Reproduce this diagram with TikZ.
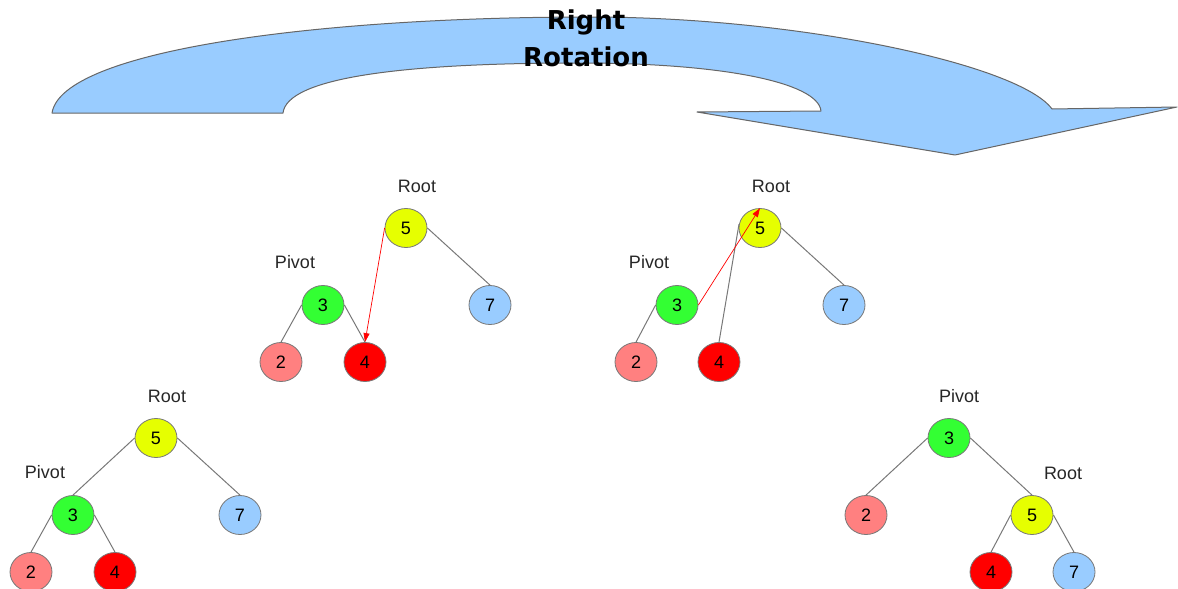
\documentclass[tikz,border=0pt]{standalone}
\usepackage{fontspec}
\setmainfont{Liberation Sans}
\newfontfamily\titlefont{DejaVu Sans}
\usetikzlibrary{shapes.geometric,arrows.meta}
\definecolor{arrowblue}{RGB}{153,204,255}
\definecolor{nyellow}{RGB}{230,255,0}
\definecolor{ngreen}{RGB}{51,255,51}
\definecolor{npink}{RGB}{255,128,128}
\definecolor{nred}{RGB}{255,0,0}
\definecolor{nblue}{RGB}{153,204,255}
\definecolor{edgegray}{RGB}{120,120,120}
\tikzset{
  tnode/.style={ellipse,draw=edgegray,line width=0.8pt,minimum width=42pt,minimum height=39pt,inner sep=0pt,font=\fontsize{18}{20}\selectfont},
  ny/.style={tnode,fill=nyellow},
  ng/.style={tnode,fill=ngreen},
  np/.style={tnode,fill=npink},
  nr/.style={tnode,fill=nred},
  nb/.style={tnode,fill=nblue},
  lbl/.style={font=\fontsize{18}{20}\selectfont,text=black!85},
  edge/.style={draw=edgegray,line width=1pt},
  redarrow/.style={draw=red,line width=0.7pt,-{Triangle[length=9pt,width=6pt]}}
}
\begin{document}
\begin{tikzpicture}[x=1pt,y=-1pt]
\useasboundingbox (0,0) rectangle (1178,589);
\clip (0,0) rectangle (1178,589);
% big curved arrow
\path[fill=arrowblue,draw=black!60,line width=1pt,line join=round]
  (52,113) .. controls (62,50) and (320,17) .. (590,17)
  .. controls (800,17) and (1020,65) .. (1052,109)
  -- (1177,107) -- (955,155) -- (697,112) -- (821,111)
  .. controls (818,82) and (720,63) .. (580,63)
  .. controls (400,63) and (287,78) .. (283,113) -- cycle;
\node[font={\titlefont\bfseries\fontsize{26}{28}\selectfont}] (t1) at (586,22) {Right};
\node[font={\titlefont\bfseries\fontsize{26}{28}\selectfont}] (t2) at (586,57) {Rotation};

% Tree A (top middle)
\node[ny] (a5) at (406,228) {5};
\node[ng] (a3) at (323,305) {3};
\node[nb] (a7) at (490,305) {7};
\node[np] (a2) at (281,362) {2};
\node[nr] (a4) at (365,362) {4};
\node[lbl] (ar) at (417,186) {Root};
\node[lbl] (ap) at (295,262) {Pivot};
\draw[edge] (a5.east) -- (a7.north);
\draw[edge] (a3.west) -- (a2.north);
\draw[edge] (a3.east) -- (a4.north);
\draw[redarrow] (a5.west) -- (a4.north);

% Tree B (top right)
\node[ny] (b5) at (760,228) {5};
\node[ng] (b3) at (677,305) {3};
\node[nb] (b7) at (844,305) {7};
\node[np] (b2) at (636,362) {2};
\node[nr] (b4) at (719,362) {4};
\node[lbl] (br) at (771,186) {Root};
\node[lbl] (bp) at (649,262) {Pivot};
\draw[edge] (b5.east) -- (b7.north);
\draw[edge] (b3.west) -- (b2.north);
\draw[edge] (b4.north) -- (b5.170);
\draw[redarrow] (b3.east) -- (b5.north);

% Tree C (bottom left)
\node[ny] (c5) at (156,438) {5};
\node[ng] (c3) at (73,515) {3};
\node[nb] (c7) at (240,515) {7};
\node[np] (c2) at (31,572) {2};
\node[nr] (c4) at (115,572) {4};
\node[lbl] (cr) at (167,396) {Root};
\node[lbl] (cp) at (45,472) {Pivot};
\draw[edge] (c5.west) -- (c3.north);
\draw[edge] (c5.east) -- (c7.north);
\draw[edge] (c3.west) -- (c2.north);
\draw[edge] (c3.east) -- (c4.north);

% Tree D (bottom right)
\node[ng] (d3) at (949,438) {3};
\node[np] (d2) at (866,515) {2};
\node[ny] (d5) at (1032,515) {5};
\node[nr] (d4) at (991,572) {4};
\node[nb] (d7) at (1074,572) {7};
\node[lbl] (dp) at (959,396) {Pivot};
\node[lbl] (dr) at (1063,473) {Root};
\draw[edge] (d3.west) -- (d2.north);
\draw[edge] (d3.east) -- (d5.north);
\draw[edge] (d5.west) -- (d4.north);
\draw[edge] (d5.east) -- (d7.north);
\end{tikzpicture}
\end{document}
